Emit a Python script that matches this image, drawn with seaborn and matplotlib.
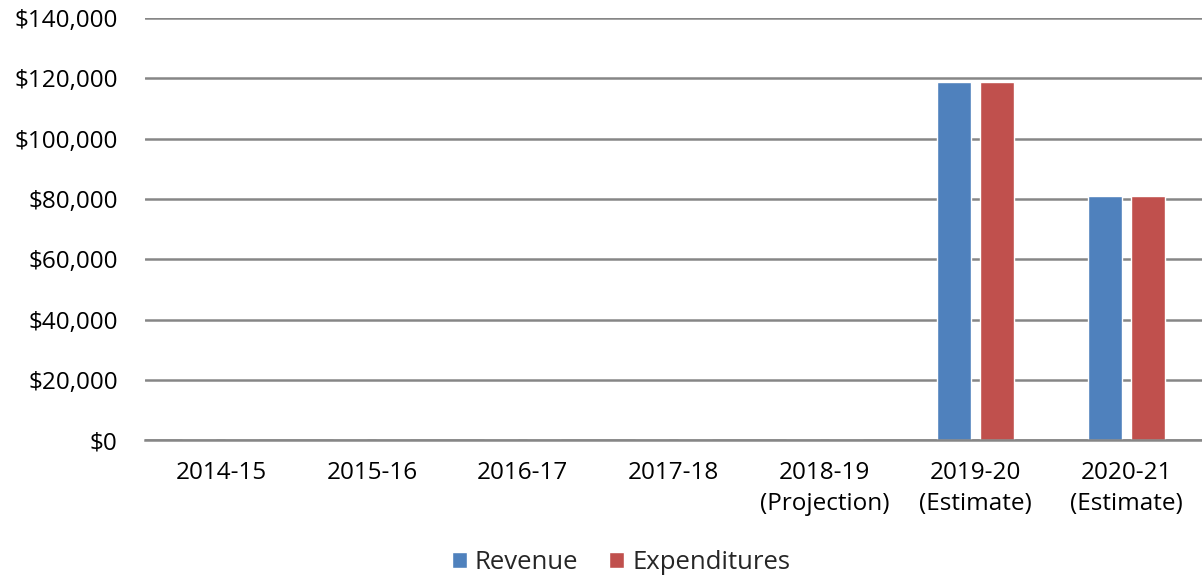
import pandas as pd
import matplotlib.pyplot as plt
import seaborn as sns
from matplotlib.ticker import FuncFormatter

years = ['2014-15', '2015-16', '2016-17', '2017-18',
         '2018-19\n(Projection)', '2019-20\n(Estimate)', '2020-21\n(Estimate)']
revenue = [0, 0, 0, 0, 0, 118700, 81000]
expenditures = [0, 0, 0, 0, 0, 118700, 81000]

data = pd.DataFrame({
    'Year': years * 2,
    'Value': revenue + expenditures,
    'Series': ['Revenue'] * len(years) + ['Expenditures'] * len(years),
})

sns.set_style("white")
plt.rcParams['font.family'] = ['Open Sans', 'DejaVu Sans']

f, ax = plt.subplots(figsize=(12.02, 5.8), dpi=100)
f.subplots_adjust(left=0.121, right=1.0, top=0.969, bottom=0.241)

sns.barplot(data=data, x='Year', y='Value', hue='Series',
            palette=['#4F81BD', '#C0504D'], width=0.57, gap=0.21,
            saturation=1, ax=ax)

ax.set_ylim(0, 140000)
ax.set_yticks(range(0, 140001, 20000))
ax.yaxis.set_major_formatter(FuncFormatter(lambda v, p: f"${v:,.0f}"))
ax.grid(axis='y', color='#868686', linewidth=1.8)
ax.set_axisbelow(True)
for s in ['top', 'right', 'left']:
    ax.spines[s].set_visible(False)
ax.spines['bottom'].set_color('#868686')
ax.spines['bottom'].set_linewidth(1.8)
ax.tick_params(axis='both', length=0, labelsize=17.5, colors='#000000')
ax.tick_params(axis='x', pad=15)
ax.tick_params(axis='y', pad=20)
for lbl in ax.get_xticklabels():
    lbl.set_linespacing(1.4)
ax.set_xlabel('')
ax.set_ylabel('')

ax.legend(loc='upper center', bbox_to_anchor=(0.45, -0.205), ncol=2, frameon=False,
          fontsize=18.5, handlelength=0.6, handleheight=0.6, handletextpad=0.3,
          columnspacing=1.2)

plt.savefig('out.png', dpi=100)
